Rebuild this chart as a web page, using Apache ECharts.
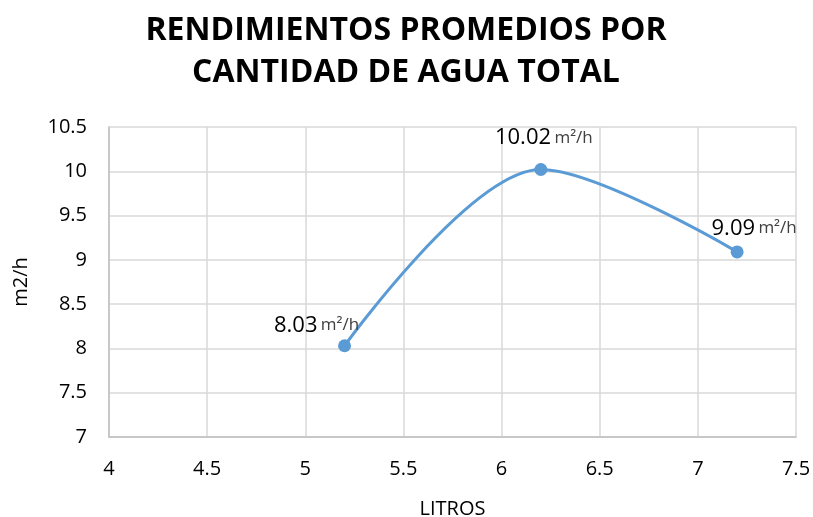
<!DOCTYPE html>
<html>
<head>
<meta charset="utf-8">
<script src="https://cdn.jsdelivr.net/npm/echarts@6/dist/echarts.min.js"></script>
<style>
  html, body { margin: 0; padding: 0; background: #fff; }
  #main { width: 813px; height: 517px; }
</style>
</head>
<body>
<div id="main"></div>
<script>
var litros = [5.2, 6.2, 7.2];
var rendimiento = [8.03, 10.02, 9.09];
var unidad = 'm²/h';
// label nudges (px) to mimic the spreadsheet's placement
var labelOffsets = [[-28, 3], [3, -8], [17, 0]];

var puntos = [];
for (var i = 0; i < litros.length; i++) {
    puntos.push({
        value: [litros[i], rendimiento[i]],
        label: { offset: labelOffsets[i] }
    });
}

var myChart = echarts.init(document.getElementById('main'));
var font = '"Open Sans", "Liberation Sans", sans-serif';

var option = {
    backgroundColor: '#fff',
    animation: false,
    title: {
        text: 'RENDIMIENTOS PROMEDIOS POR\nCANTIDAD DE AGUA TOTAL',
        left: 401,
        textAlign: 'center',
        top: 5,
        textStyle: {
            fontFamily: font,
            fontWeight: 'bold',
            fontSize: 32,
            lineHeight: 42,
            color: '#000'
        }
    },
    grid: {
        left: 109,
        right: 17,
        top: 127,
        bottom: 80,
        outerBoundsMode: 'none'
    },
    xAxis: {
        type: 'value',
        min: 4,
        max: 7.5,
        interval: 0.5,
        name: 'LITROS',
        nameLocation: 'middle',
        nameGap: 62,
        nameTextStyle: { fontFamily: font, fontSize: 20, color: '#000' },
        axisLine: { lineStyle: { color: '#bfbfbf', width: 1.5 } },
        axisTick: { show: false },
        axisLabel: { fontFamily: font, fontSize: 20, color: '#000', margin: 22 },
        splitLine: { show: true, lineStyle: { color: '#d9d9d9', width: 1.5 } }
    },
    yAxis: {
        type: 'value',
        min: 7,
        max: 10.5,
        interval: 0.5,
        name: 'm2/h',
        nameLocation: 'middle',
        nameGap: 78,
        nameTextStyle: { fontFamily: font, fontSize: 20, color: '#000' },
        axisLine: { show: true, lineStyle: { color: '#bfbfbf', width: 1.5 } },
        axisTick: { show: false },
        axisLabel: { fontFamily: font, fontSize: 20, color: '#000', margin: 22 },
        splitLine: { show: true, lineStyle: { color: '#d9d9d9', width: 1.5 } }
    },
    series: [
        {
            type: 'line',
            data: puntos,
            smooth: 0.32,
            symbol: 'circle',
            symbolSize: 13,
            itemStyle: { color: '#5b9bd5' },
            lineStyle: { color: '#5b9bd5', width: 3 },
            label: {
                show: true,
                position: 'top',
                distance: 6,
                formatter: function (p) {
                    return '{v|' + p.value[1].toFixed(2) + '} {u|' + unidad + '}';
                },
                rich: {
                    v: { fontFamily: font, fontSize: 22, color: '#000' },
                    u: { fontFamily: font, fontSize: 17, color: '#404040' }
                }
            }
        }
    ]
};

myChart.setOption(option);
</script>
</body>
</html>
